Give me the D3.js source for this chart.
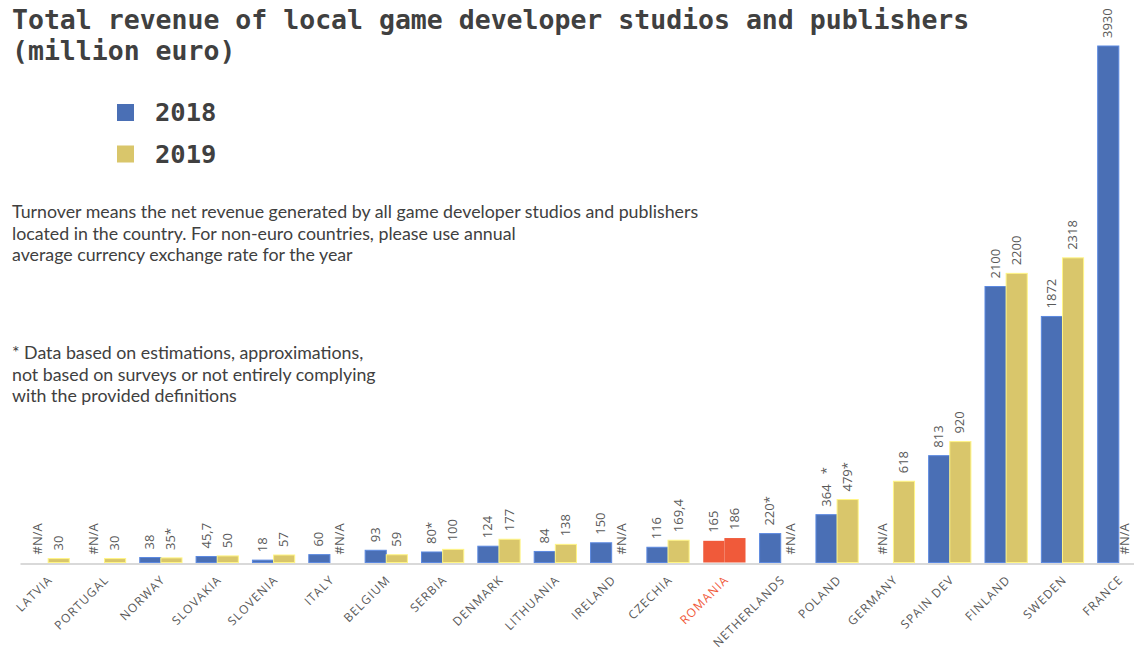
<!DOCTYPE html>
<meta charset="utf-8">
<style>
body { margin: 0; background: #fff; }
svg { display: block; }
.title, .legend text { font-family: "DejaVu Sans Mono", monospace; font-weight: bold; fill: #404040; }
.note { font-family: Lato, sans-serif; font-size: 17.8px; fill: #404040; }
.val { font-family: "Open Sans", sans-serif; font-size: 13px; fill: #595959; }
.cat text { font-family: "Open Sans", sans-serif; font-size: 12px; fill: #595959; letter-spacing: 1.1px; }
</style>
<svg width="1134" height="652"></svg>
<script src="https://d3js.org/d3.v7.min.js"></script>
<script>
var categories = ["LATVIA", "PORTUGAL", "NORWAY", "SLOVAKIA", "SLOVENIA", "ITALY", "BELGIUM", "SERBIA",
  "DENMARK", "LITHUANIA", "IRELAND", "CZECHIA", "ROMANIA", "NETHERLANDS", "POLAND", "GERMANY",
  "SPAIN DEV", "FINLAND", "SWEDEN", "FRANCE"];
var years = ["2018", "2019"];
var values2018 = [null, null, 38, 45.7, 18, 60, 93, 80, 124, 84, 150, 116, 165, 220, 364, null, 813, 2100, 1872, 3930];
var values2019 = [30, 30, 35, 50, 57, null, 59, 100, 177, 138, null, 169.4, 186, null, 479, 618, 920, 2200, 2318, null];
var labels2018 = ["#N/A", "#N/A", "38", "45,7", "18", "60", "93", "80*", "124", "84", "150", "116", "165",
  "220*", "364   *", "#N/A", "813", "2100", "1872", "3930"];
var labels2019 = ["30", "30", "35*", "50", "57", "#N/A", "59", "100", "177", "138", "#N/A", "169,4", "186",
  "#N/A", "479*", "618", "920", "2200", "2318", "#N/A"];
var highlight = "ROMANIA";

var colors = {"2018": "#4a6fb5", "2019": "#d9c66b"};
var highlightColor = "#f05a3a";

var svg = d3.select("svg"),
    width = +svg.attr("width");

var baseline = 562.5;

var x = d3.scaleBand()
    .domain(categories)
    .range([20, 1147])
    .paddingInner(0.25)
    .paddingOuter(0.125);

var xYear = d3.scaleBand()
    .domain(years)
    .range([0, x.bandwidth()]);

var y = d3.scaleLinear()
    .domain([0, 3930])
    .range([baseline, 46]);

// title
var title = svg.append("text")
    .attr("class", "title")
    .attr("x", 12)
    .attr("font-size", "26.5px");
title.append("tspan").attr("x", 12).attr("y", 29).text("Total revenue of local game developer studios and publishers");
title.append("tspan").attr("x", 12).attr("y", 60).text("(million euro)");

// legend
var legend = svg.append("g").attr("class", "legend")
  .selectAll("g")
  .data(years)
  .enter().append("g")
    .attr("transform", function(d, i) { return "translate(117," + (104 + i * 41.5) + ")"; });
legend.append("rect")
    .attr("width", 17)
    .attr("height", 17)
    .attr("fill", function(d) { return colors[d]; });
legend.append("text")
    .attr("x", 38)
    .attr("y", 17)
    .attr("font-size", "25.5px")
    .text(function(d) { return d; });

// notes
var notes = [
  {y: 218, lines: ["Turnover means the net revenue generated by all game developer studios and publishers",
                   "located in the country. For non-euro countries, please use annual",
                   "average currency exchange rate for the year"]},
  {y: 359, lines: ["* Data based on estimations, approximations,",
                   "not based on surveys or not entirely complying",
                   "with the provided definitions"]}
];
notes.forEach(function(n) {
  var t = svg.append("text").attr("class", "note");
  n.lines.forEach(function(l, i) {
    t.append("tspan").attr("x", 12).attr("y", n.y + i * 21.5).text(l);
  });
});

// flatten into bar records
var rows = [];
categories.forEach(function(c, i) {
  rows.push({cat: c, year: "2018", value: values2018[i], label: labels2018[i]});
  rows.push({cat: c, year: "2019", value: values2019[i], label: labels2019[i]});
});

function fillOf(d) { return d.cat === highlight ? highlightColor : colors[d.year]; }

// axis line + category labels
svg.append("g")
    .attr("class", "cat")
    .attr("transform", "translate(0," + (baseline + 1) + ")")
    .call(d3.axisBottom(x).tickSize(0).tickSizeOuter(0))
    .call(function(g) {
      g.select(".domain").attr("stroke", "#d9d9d9").attr("stroke-width", 2);
      g.selectAll(".tick text")
        .attr("text-anchor", "end")
        .attr("dy", null)
        .attr("y", null)
        .attr("transform", "translate(5,17) rotate(-45)")
        .style("fill", function(d) { return d === highlight ? highlightColor : null; });
    });

// bars
svg.append("g")
  .selectAll("rect")
  .data(rows.filter(function(d) { return d.value != null; }))
  .enter().append("rect")
    .attr("x", function(d) { return x(d.cat) + xYear(d.year); })
    .attr("y", function(d) { return y(d.value); })
    .attr("width", xYear.bandwidth())
    .attr("height", function(d) { return baseline - y(d.value); })
    .attr("fill", fillOf)
    .attr("stroke", function(d) { return d.cat === highlight ? "none" : d3.color(fillOf(d)).brighter(0.6); })
    .attr("stroke-width", 1);

// value labels (kept inside the right edge, descent included)
svg.append("g")
  .selectAll("text")
  .data(rows)
  .enter().append("text")
    .attr("class", "val")
    .attr("transform", function(d) {
      var cx = Math.min(x(d.cat) + xYear(d.year) + xYear.bandwidth() / 2 + 4, width - 5);
      return "translate(" + cx + "," + (y(d.value || 0) - 8) + ") rotate(-90)";
    })
    .attr("xml:space", "preserve")
    .style("white-space", "pre")
    .text(function(d) { return d.label; });
</script>
